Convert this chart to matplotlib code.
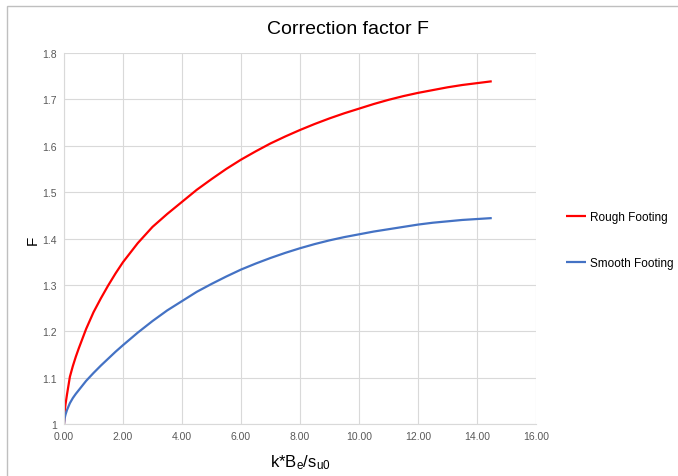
import matplotlib
matplotlib.use("Agg")
import matplotlib.pyplot as plt
from matplotlib.patches import Rectangle

plt.rcParams['font.family'] = ['Liberation Sans', 'DejaVu Sans']
plt.rcParams['mathtext.fontset'] = 'custom'
plt.rcParams['mathtext.rm'] = 'Liberation Sans'
plt.rcParams['mathtext.it'] = 'Liberation Sans'

x_vals = [0, 0.02, 0.05, 0.1, 0.2, 0.3, 0.4, 0.5, 0.75, 1, 1.25, 1.5, 1.75, 2, 2.5, 3, 3.5, 4, 4.5, 5,
          5.5, 6, 6.5, 7, 7.5, 8, 8.5, 9, 9.5, 10, 10.5, 11, 11.5, 12, 12.5, 13, 13.5, 14, 14.5]
rough = [1.0, 1.025, 1.042, 1.063, 1.102, 1.125, 1.145, 1.163, 1.205, 1.241, 1.271, 1.299, 1.325, 1.349,
         1.39, 1.425, 1.453, 1.479, 1.505, 1.528, 1.55, 1.57, 1.588, 1.605, 1.62, 1.634, 1.647, 1.659,
         1.67, 1.68, 1.69, 1.699, 1.707, 1.714, 1.72, 1.726, 1.731, 1.735, 1.739]
smooth = [1.0, 1.012, 1.02, 1.03, 1.045, 1.056, 1.065, 1.073, 1.093, 1.11, 1.126, 1.141, 1.156, 1.17,
          1.197, 1.222, 1.245, 1.265, 1.285, 1.302, 1.318, 1.333, 1.346, 1.358, 1.369, 1.379, 1.388,
          1.396, 1.403, 1.409, 1.415, 1.42, 1.425, 1.43, 1.434, 1.437, 1.44, 1.442, 1.444]

x_ticks = [0, 2, 4, 6, 8, 10, 12, 14, 16]
x_tick_labels = ['0.00', '2.00', '4.00', '6.00', '8.00', '10.00', '12.00', '14.00', '16.00']
y_ticks = [1.0, 1.1, 1.2, 1.3, 1.4, 1.5, 1.6, 1.7, 1.8]
y_tick_labels = ['1', '1.1', '1.2', '1.3', '1.4', '1.5', '1.6', '1.7', '1.8']

fig = plt.figure(figsize=(6.78, 4.77), dpi=100)
fig.patches.append(Rectangle((7/678, -0.2), 1.2, 1.2 - 7/477, transform=fig.transFigure,
                             fill=False, edgecolor='#bfbfbf', linewidth=1.0))
ax = fig.add_axes([64/678, 1 - 425/477, (536 - 64)/678, (425 - 54)/477])

ax.plot(x_vals, rough, color='#ff0000', lw=1.6, label='Rough Footing', solid_capstyle='butt')
ax.plot(x_vals, smooth, color='#4472c4', lw=1.6, label='Smooth Footing', solid_capstyle='butt')

ax.set_xlim(0, 16)
ax.set_ylim(1.0, 1.8)
ax.set_xticks(x_ticks)
ax.set_xticklabels(x_tick_labels)
ax.set_yticks(y_ticks)
ax.set_yticklabels(y_tick_labels)
ax.tick_params(axis='both', length=0, labelsize=7.5, labelcolor='#595959', pad=5)
ax.grid(True, color='#d9d9d9', lw=0.8)
ax.set_axisbelow(True)
for s in ['top', 'right']:
    ax.spines[s].set_visible(False)
for s in ['left', 'bottom']:
    ax.spines[s].set_color('#d9d9d9')
    ax.spines[s].set_linewidth(0.8)

fig.text(348/678, 1 - 30/477, 'Correction factor F', ha='center', va='center', fontsize=14, color='#000000')
fig.text(33/678, 1 - 240/477, 'F', ha='center', va='center', fontsize=11, rotation=90)
fig.text(300/678, 1 - 463/477, r'k*B$_\mathregular{e}$/s$_\mathregular{u0}$', ha='center', va='center', fontsize=12)

ax.legend(loc='upper left', bbox_to_anchor=(566/678, 1 - 212/477), bbox_transform=fig.transFigure,
          frameon=False, fontsize=8.5, handlelength=1.7, handletextpad=0.3, labelspacing=2.9,
          borderpad=0, borderaxespad=0)

fig.savefig('out.png', dpi=100)
